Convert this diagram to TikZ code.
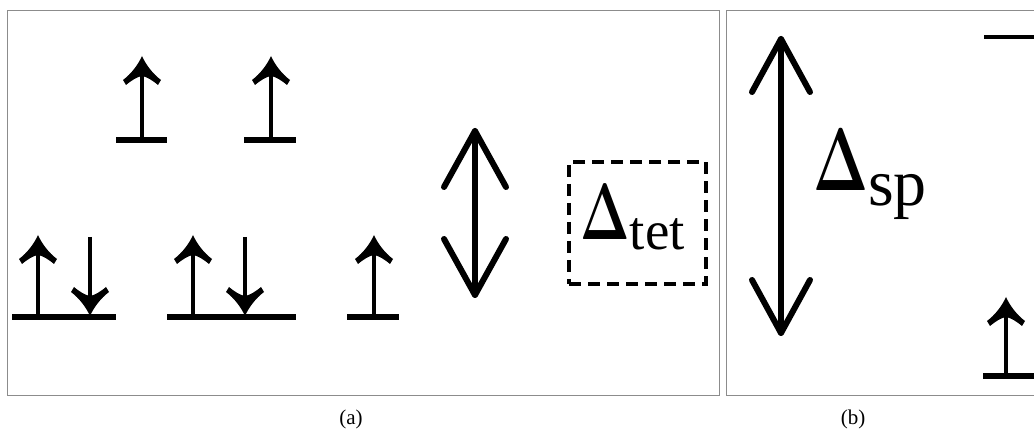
\documentclass[tikz,border=0pt]{standalone}
\usepackage{graphicx}
\usepackage{fontspec}
% Latin Modern stays the main font (its capital Delta has the contrasted strokes);
% everything else is set in a Times-metric serif
\newfontfamily\timesfont{Liberation Serif}
\usetikzlibrary{calc}
\newcommand{\bigdelta}[1]{{\fontsize{#1}{#1}\selectfont\bfseries\scalebox{0.66}[1]{Δ}}}
\tikzset{
  framebox/.style={draw=black!45, line width=1.2pt, anchor=north west, inner sep=0pt},
  level/.style={line width=6pt},
  shaft/.style={line width=4.8pt},
  gap/.style={line width=6pt, line cap=round, line join=round},
  dashbox/.style={draw, line width=4.5pt, dash pattern=on 12pt off 7pt,
    minimum width=137pt, minimum height=122pt, inner sep=0pt},
  caption/.style={font=\timesfont\fontsize{21}{21}\selectfont},
  spinhead/.pic={
    \fill (0,-1) .. controls (-4,8) and (-11,17) .. (-19,23)
      -- (-16,28) .. controls (-10,23) and (-5,20) .. (0,19)
      .. controls (5,20) and (10,23) .. (16,28)
      -- (19,23) .. controls (11,17) and (4,8) .. (0,-1) -- cycle;
  }
}
\begin{document}
\begin{tikzpicture}[x=1pt, y=-1pt]
\useasboundingbox (0,0) rectangle (1034,430);
\clip (0,0) rectangle (1034,430);

% panel frames
\node[framebox, minimum width=712pt, minimum height=385pt] (panelA) at (7,10) {};
\node[framebox, minimum width=330pt, minimum height=385pt] (panelB) at (726,10) {};

% ---------- panel (a): levels ----------
\coordinate (l1a) at (116,140); \coordinate (l1b) at (167,140);
\coordinate (l2a) at (244,140); \coordinate (l2b) at (296,140);
\coordinate (l3a) at (12,317);  \coordinate (l3b) at (116,317);
\coordinate (l4a) at (167,317); \coordinate (l4b) at (296,317);
\coordinate (l5a) at (347,317); \coordinate (l5b) at (399,317);
\foreach \l in {l1,l2,l3,l4,l5} \draw[level] (\l a) -- (\l b);

% spin-up electrons: base on the level, tip above
\foreach \n/\bx/\by/\ty in {s1/142/140/57, s2/271/140/57, s3/38/317/236,
                             s4/193/317/236, s5/374/317/236} {
  \coordinate (\n base) at (\bx,\by);
  \coordinate (\n tip) at (\bx,\ty);
  \draw[shaft] (\n base) -- ($(\n tip)+(0,12)$);
  \pic at (\n tip) {spinhead};
}

% spin-down electrons: tail above, tip on the level
\foreach \n/\bx in {d1/90, d2/245} {
  \coordinate (\n tail) at (\bx,237);
  \coordinate (\n tip) at (\bx,315);
  \draw[shaft] (\n tail) -- ($(\n tip)+(0,-12)$);
  \pic[rotate=180] at (\n tip) {spinhead};
}

% splitting arrow
\coordinate (dAt) at (475,131);
\coordinate (dAb) at (475,295);
\draw[gap] (dAt) -- (dAb);
\draw[gap] ($(dAt)+(-31,56)$) -- (dAt) -- ($(dAt)+(31,56)$);
\draw[gap] ($(dAb)+(-31,-56)$) -- (dAb) -- ($(dAb)+(31,-56)$);

% tetrahedral splitting label
\node[dashbox] (tetbox) at (637.5,223) {};
\node[anchor=base west, inner sep=0pt]
  (tet) at (580,240) {\bigdelta{80}\raisebox{-10pt}{\timesfont\fontsize{55}{55}\selectfont tet}};

% ---------- panel (b) ----------
\coordinate (dBt) at (781,39);
\coordinate (dBb) at (781,333);
\draw[gap] (dBt) -- (dBb);
\draw[gap] ($(dBt)+(-29,53)$) -- (dBt) -- ($(dBt)+(29,53)$);
\draw[gap] ($(dBb)+(-29,-53)$) -- (dBb) -- ($(dBb)+(29,-53)$);

\node[anchor=base west, inner sep=0pt]
  (sp) at (813,191) {\bigdelta{89}\raisebox{-15pt}{\timesfont\fontsize{66}{66}\selectfont sp}};

\coordinate (l6a) at (984,37);  \coordinate (l6b) at (1040,37);
\draw[line width=4pt] (l6a) -- (l6b);
\coordinate (l7a) at (983,376); \coordinate (l7b) at (1040,376);
\draw[level] (l7a) -- (l7b);
\coordinate (s6base) at (1006,376);
\coordinate (s6tip) at (1006,298);
\draw[shaft] (s6base) -- ($(s6tip)+(0,12)$);
\pic at (s6tip) {spinhead};

% captions
\node[caption] (capA) at (351,419) {(a)};
\node[caption] (capB) at (853,419) {(b)};
\end{tikzpicture}
\end{document}
